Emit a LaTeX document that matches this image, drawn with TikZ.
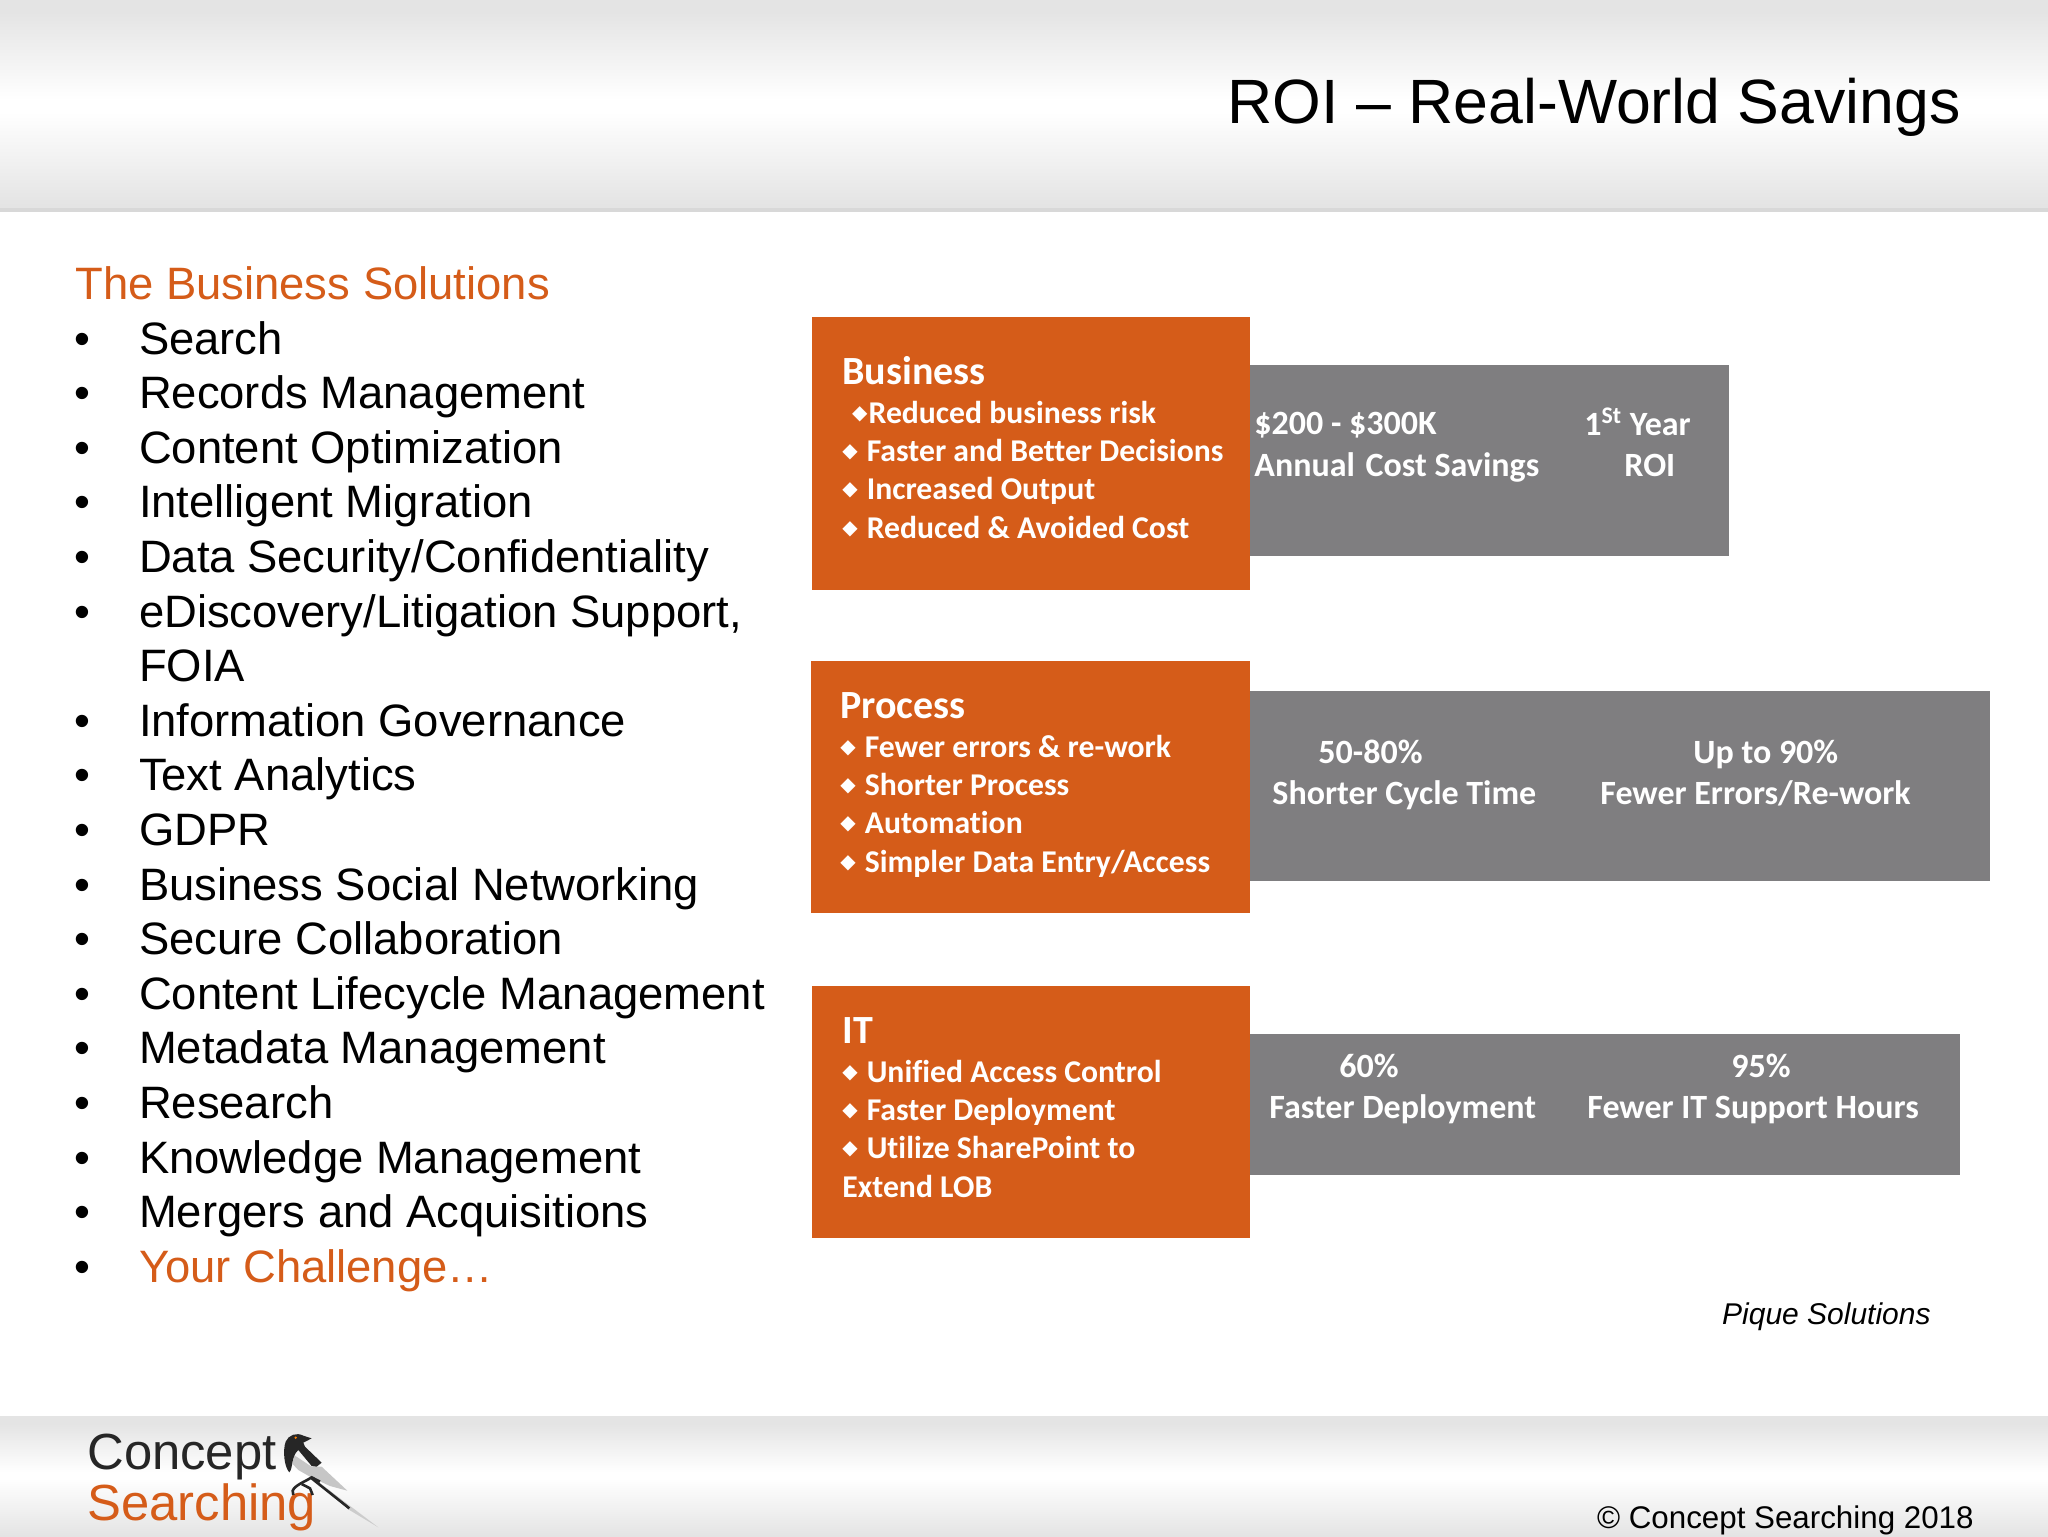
\documentclass[tikz,border=0pt]{standalone}
\usepackage{fontspec}
\usepackage{xcolor}
\usetikzlibrary{positioning}
\setmainfont{Liberation Sans}
\newfontfamily\boxfont[Ligatures=NoCommon]{Carlito}
\newfontfamily\symfont{DejaVu Sans}
\definecolor{csorange}{HTML}{D55C19}
\definecolor{csgray}{HTML}{7F7E80}
\definecolor{csband}{HTML}{E4E4E4}
\newcommand{\dia}[1][4.5pt]{{\symfont\fontsize{10}{12}\selectfont\raisebox{2pt}{◆}}\hspace{#1}}

\begin{document}
\begin{tikzpicture}[x=0.5pt,y=-0.5pt,
        listplain/.style={
        inner sep=0pt,
        outer sep=0pt,
        anchor=north west,
        text height=18pt,
        text depth=9.3pt,
        font=\fontsize{22.7}{27}\selectfont},
        listitem/.style={
        listplain,
        label={[inner sep=0pt,outer sep=0pt,anchor=base west,xshift=-32.5pt,font=\fontsize{22.7}{27}\selectfont]base west:\textbullet}},
        orangebox/.style={
        draw=none,
        fill=csorange,
        inner sep=0pt,
        anchor=north west},
        graybox/.style={
        draw=none,
        fill=csgray,
        inner sep=0pt,
        anchor=north west},
        boxtext/.style={
        text=white,
        inner sep=0pt,
        align=left,
        anchor=north west,
        font=\boxfont\bfseries\fontsize{15.85}{19.15}\selectfont},
        figtext/.style={
        boxtext,
        font=\boxfont\bfseries\fontsize{17}{20.5}\selectfont}]

        % background and bands
        \useasboundingbox (0,0) rectangle (2048,1536);
        \fill[white] (0,0) rectangle (2048,1536);
        \shade[top color=csband,bottom color=white] (0,12) rectangle (2048,100);
        \fill[csband] (0,0) rectangle (2048,12);
        \shade[top color=white,bottom color=csband] (0,112) rectangle (2048,205);
        \fill[csband] (0,205) rectangle (2048,208);
        \fill[csband!95!black] (0,208) rectangle (2048,212);
        \shade[top color=csband,bottom color=white] (0,1424) rectangle (2048,1472);
        \fill[csband] (0,1416) rectangle (2048,1424);
        \shade[top color=white,bottom color=csband] (0,1478) rectangle (2048,1536);

        \node[anchor=base east,inner sep=0pt,font=\fontsize{31.3}{40}\selectfont] (title) at (1961,124) {ROI -- Real-World Savings};

        % list on the left
        \node[inner sep=0pt,anchor=base west,text=csorange,font=\fontsize{22.7}{27}\selectfont] (head) at (75,299) {The Business Solutions};
        \node[listitem] (search) at (139,318) {Search};
        \node[listitem,below=0pt of search.south west,anchor=north west] (records) {Records Management};
        \node[listitem,below=0pt of records.south west,anchor=north west] (optim) {Content Optimization};
        \node[listitem,below=0pt of optim.south west,anchor=north west] (migrate) {Intelligent Migration};
        \node[listitem,below=0pt of migrate.south west,anchor=north west] (security) {Data Security/Confidentiality};
        \node[listitem,below=0pt of security.south west,anchor=north west] (ediscovery) {eDiscovery/Litigation Support,};
        \node[listplain,below=0pt of ediscovery.south west,anchor=north west] (foia) {FOIA};
        \node[listitem,below=0pt of foia.south west,anchor=north west] (governance) {Information Governance};
        \node[listitem,below=0pt of governance.south west,anchor=north west] (analytics) {Text Analytics};
        \node[listitem,below=0pt of analytics.south west,anchor=north west] (gdpr) {GDPR};
        \node[listitem,below=0pt of gdpr.south west,anchor=north west] (social) {Business Social Networking};
        \node[listitem,below=0pt of social.south west,anchor=north west] (collab) {Secure Collaboration};
        \node[listitem,below=0pt of collab.south west,anchor=north west] (lifecycle) {Content Lifecycle Management};
        \node[listitem,below=0pt of lifecycle.south west,anchor=north west] (metadata) {Metadata Management};
        \node[listitem,below=0pt of metadata.south west,anchor=north west] (research) {Research};
        \node[listitem,below=0pt of research.south west,anchor=north west] (knowledge) {Knowledge Management};
        \node[listitem,below=0pt of knowledge.south west,anchor=north west] (mergers) {Mergers and Acquisitions};
        \node[listitem,text=csorange,below=0pt of mergers.south west,anchor=north west] (challenge) {Your Challenge\dots};

        % boxes
        \node[graybox,minimum width=239.5pt,minimum height=95.5pt] (savings) at (1250,365) {};
        \node[orangebox,minimum width=219pt,minimum height=136.5pt] (business) at (812,317) {};
        \node[graybox,minimum width=370pt,minimum height=95pt] (cycle) at (1250,691) {};
        \node[orangebox,minimum width=219.5pt,minimum height=126pt] (process) at (811,661) {};
        \node[graybox,minimum width=355pt,minimum height=70.5pt] (deploy) at (1250,1034) {};
        \node[orangebox,minimum width=219pt,minimum height=126pt] (it) at (812,986) {};

        \node[boxtext] (businesstxt) at (842,356) {{\fontsize{20}{24}\selectfont Business}\\[0.3pt]
        \hspace*{4.8pt}\dia[0.6pt]Reduced business risk\\ \dia Faster and Better Decisions\\ \dia Increased Output\\ \dia Reduced \& Avoided Cost};
        \node[boxtext] (processtxt) at (840,692) {{\fontsize{20}{24}\selectfont Process}\\[0.3pt]
        \dia Fewer errors \& re-work\\ \dia Shorter Process\\ \dia Automation\\ \dia Simpler Data Entry/Access};
        \node[boxtext] (ittxt) at (842,1017) {{\fontsize{20}{24}\selectfont IT}\\[0.3pt]
        \dia Unified Access Control\\ \dia Faster Deployment\\ \dia Utilize SharePoint to\\ Extend LOB};

        \node[figtext] (savingstxt) at (1254,412) {\$200 - \$300K\\[0.5pt]Annual\hspace{1.5pt} Cost Savings};
        \node[figtext] (roitxt) at (1584,407) {1\textsuperscript{St} Year\\\hspace*{20pt}ROI};
        \node[figtext] (cycletxt) at (1272,740) {\hspace*{23pt}50-80\%\\Shorter Cycle Time};
        \node[figtext] (errorstxt) at (1600,740) {\hspace*{46.5pt}Up to 90\%\\Fewer Errors/Re-work};
        \node[figtext] (deploytxt) at (1269,1054) {\hspace*{35pt}60\%\\Faster Deployment};
        \node[figtext] (hourstxt) at (1587,1054) {\hspace*{72pt}95\%\\Fewer IT Support Hours};

        \node[inner sep=0pt,anchor=base east,font=\itshape\fontsize{15}{18}\selectfont] (pique) at (1931,1324) {Pique Solutions};
        \node[inner sep=0pt,anchor=base east,font=\fontsize{15.66}{18}\selectfont] (copyright) at (1974,1528) {© Concept Searching 2018};

        % logo
        \node[inner sep=0pt,anchor=base west,text=black!85,font=\fontsize{25.4}{28}\selectfont] (concept) at (87,1469) {Concept};
        \node[inner sep=0pt,anchor=base west,text=csorange,font=\fontsize{25.4}{28}\selectfont] (searching) at (87,1520) {Searching};
        \begin{scope}[shift={(270,1420)},scale=1/3]
        \fill[gray!40] (135,178) -- (325,322) -- (235,268) -- (170,205) -- cycle;
        \fill[gray!45] (72,105) -- (125,140) -- (155,140) -- (232,212) -- (180,198) -- (120,170) -- (85,150) -- (68,132) -- cycle;
        \fill[black!85] (125,55) -- (100,47) .. controls (80,36) and (55,45) .. (47,65)
        .. controls (38,90) and (42,140) .. (58,157) .. controls (70,145) and (62,110) .. (85,90)
        -- (125,138) -- (140,140) -- (155,128) -- (105,80) -- (100,68) -- cycle;
        \fill[orange] (77,53) circle (4);
        \draw[black!85,line width=1.3pt] (125,175) -- (238,265);
        \draw[black!85,line width=1.3pt] (70,225) -- (68,212) .. controls (75,195) and (105,185) .. (125,172) -- (150,185);
        \draw[black!85,line width=1.3pt] (95,192) -- (120,205) -- (128,225);
        \end{scope}
\end{tikzpicture}
\end{document}
